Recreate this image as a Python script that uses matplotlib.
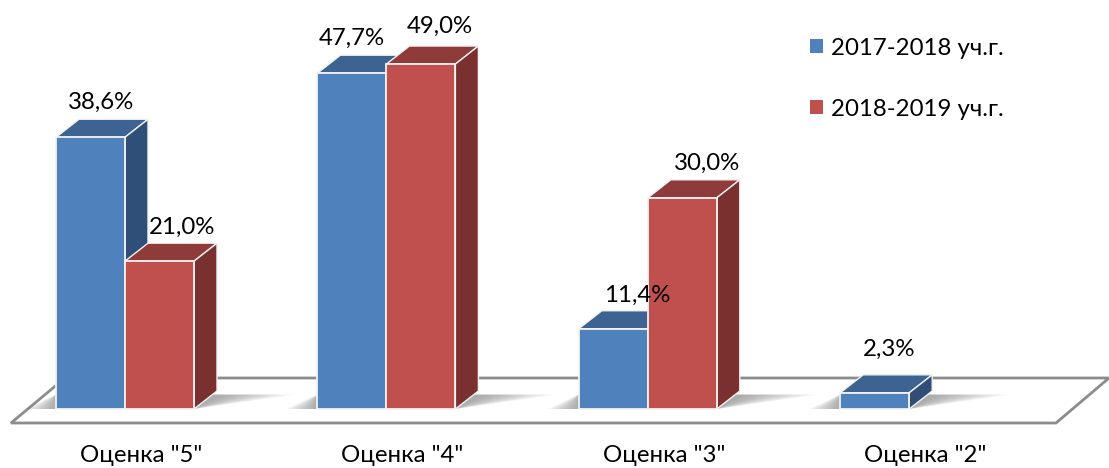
import matplotlib
matplotlib.use('Agg')
import matplotlib.pyplot as plt
from matplotlib.patches import Patch, Polygon

# Lato is the closest installed face to Calibri
plt.rcParams['font.family'] = ['Lato', 'Open Sans', 'DejaVu Sans']

categories = ['Оценка "5"', 'Оценка "4"', 'Оценка "3"', 'Оценка "2"']
series_names = ['2017-2018 уч.г.', '2018-2019 уч.г.']
values_2017 = [38.6, 47.7, 11.4, 2.3]
values_2018 = [21.0, 49.0, 30.0, None]
labels_2017 = ['38,6%', '47,7%', '11,4%', '2,3%']
labels_2018 = ['21,0%', '49,0%', '30,0%', '']

# label nudges from the front bar top, pixels
label_dx_2017 = [11, 0, 24, 14]
label_dy_2017 = [35, 35, 33, 43]
label_dx_2018 = [23, 19, 25, 0]
label_dy_2018 = [34, 38, 34, 0]

W, H = 1109, 468
PX_X = 261.4   # pixels per category
PX_Y = 7.04    # pixels per percent
X0 = 125       # pixel of the first category
Y0 = 409       # pixel of the zero line
FS = 17.3

BAR_W = 69 / PX_X
DX = 23 / PX_X
DY = 18 / PX_Y

STYLES = [
    {'front': '#4F81BD', 'top': '#3C6391', 'side': '#2F4F78'},
    {'front': '#C0504D', 'top': '#8F3B39', 'side': '#7A302F'},
]


def draw_bar(ax, x, value, style, z):
    """front through ax.bar, then top and side faces offset by the depth"""
    ax.bar(x, value, BAR_W, align='edge', color=style['front'],
           edgecolor='#f2f2f2', linewidth=1.3, zorder=z + 0.2)
    top = [(x, value), (x + BAR_W, value), (x + BAR_W + DX, value + DY), (x + DX, value + DY)]
    side = [(x + BAR_W, 0), (x + BAR_W + DX, DY), (x + BAR_W + DX, value + DY), (x + BAR_W, value)]
    ax.add_patch(Polygon(top, fc=style['top'], ec='#f2f2f2', lw=1.0, zorder=z))
    ax.add_patch(Polygon(side, fc=style['side'], ec='#f2f2f2', lw=1.0, zorder=z))


def draw_shadow(ax, x_left, x_right):
    """soft shadow on the floor, a stack of faint polygons"""
    n = 14
    for i in range(n):
        k = i / n
        pts = [(x_left - 0.12 * (1 - k), 0),
               (x_right, 0),
               (x_right + 0.3 * (1 - k) + DX, DY * 0.8),
               (x_left, DY * 0.8)]
        ax.add_patch(Polygon(pts, fc='#666666', ec='none', alpha=0.05, zorder=2))


fig = plt.figure(figsize=(W / 100, H / 100), dpi=100)
ax = fig.add_axes([0, 0, 1, 1])
ax.set_xlim((0 - X0) / PX_X, (W - X0) / PX_X)
ax.set_ylim((Y0 - H) / PX_Y, Y0 / PX_Y)
ax.axis('off')

# floor of the 3D chart
fy_front = (Y0 - 423) / PX_Y
fy_back = (Y0 - 378) / PX_Y
floor = [((11 - X0) / PX_X, fy_front), ((1056 - X0) / PX_X, fy_front),
         ((1109 - X0) / PX_X, fy_back), ((65 - X0) / PX_X, fy_back)]
ax.add_patch(Polygon(floor, fc='white', ec='#8c8c8c', lw=2, zorder=1))

for i, (a, b) in enumerate(zip(values_2017, values_2018)):
    x_blue = i - BAR_W
    x_red = i
    draw_shadow(ax, x_blue, x_red + (BAR_W if b is not None else 0))
    draw_bar(ax, x_blue, a, STYLES[0], 3)
    ax.annotate(labels_2017[i], (x_blue + BAR_W / 2, a),
                xytext=(label_dx_2017[i] * 0.72, label_dy_2017[i] * 0.72),
                textcoords='offset points', ha='center', va='center',
                fontsize=FS, color='black', zorder=10)
    if b is not None:
        draw_bar(ax, x_red, b, STYLES[1], 4)
        ax.annotate(labels_2018[i], (x_red + BAR_W / 2, b),
                    xytext=(label_dx_2018[i] * 0.72, label_dy_2018[i] * 0.72),
                    textcoords='offset points', ha='center', va='center',
                    fontsize=FS, color='black', zorder=10)
    ax.text(i + 16 / PX_X, (Y0 - 456) / PX_Y, categories[i], ha='center', va='center',
            fontsize=FS, color='black')

handles = [Patch(fc=STYLES[0]['front'], ec='none'), Patch(fc=STYLES[1]['front'], ec='none')]
ax.legend(handles, series_names, loc='upper left', bbox_to_anchor=(788 / W, 1 - 16 / H),
          frameon=False, fontsize=FS, handlelength=0.55, handleheight=0.55,
          handletextpad=0.35, labelspacing=1.66, borderpad=0.4)

fig.savefig('out.png', dpi=100)
